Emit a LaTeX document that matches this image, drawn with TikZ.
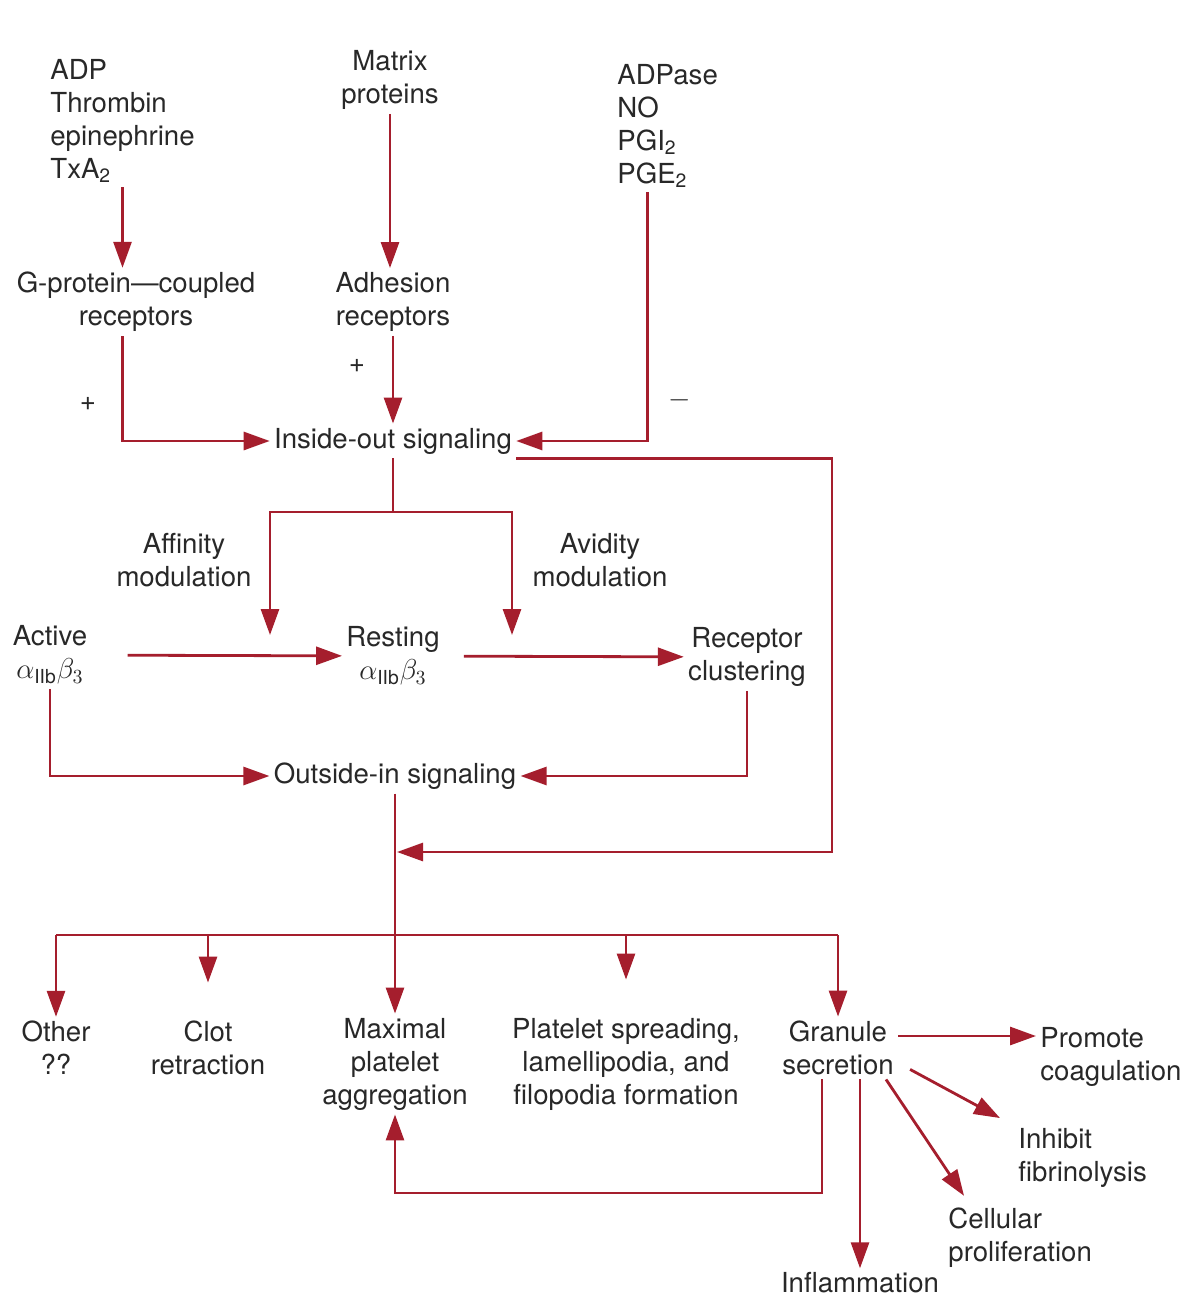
\documentclass[tikz,border=0pt]{standalone}
\usepackage{fontspec}
\setmainfont{TeX Gyre Heros}
\usetikzlibrary{arrows.meta}
\definecolor{arrowred}{RGB}{165,30,45}
\definecolor{txtgray}{RGB}{40,40,40}
\begin{document}
\begin{tikzpicture}[x=0.5pt, y=-0.5pt,
		lbl/.style={inner sep=2pt, align=center, text=txtgray, font=\fontsize{13.8}{16.5}\selectfont},
		arr/.style={-{Triangle[length=13pt, width=9pt]}, line width=1.4pt, arrowred},
		ln/.style={line width=1.4pt, arrowred}]
		\useasboundingbox[fill=white] (0,0) rectangle (1184,1299);

		% 上部：激动剂、基质蛋白与抑制剂
		\node[lbl, anchor=west, align=left] (agon) at (46,121) {ADP\\Thrombin\\epinephrine\\TxA\textsubscript{2}};
		\node[lbl] (matrix) at (390,80) {Matrix\\proteins};
		\node[lbl, anchor=west, align=left] (inhib) at (613,126) {ADPase\\NO\\PGI\textsubscript{2}\\PGE\textsubscript{2}};

		% 受体
		\node[lbl] (gpcr) at (136,302) {G-protein—coupled\\receptors};
		\node[lbl] (adh) at (393,302) {Adhesion\\receptors};
		\node[lbl] (plusa) at (88,404) {+};
		\node[lbl] (plusb) at (357,366) {+};
		\node[lbl] (minus) at (680,400) {$-$};

		\node[lbl] (inout) at (393,441) {Inside-out signaling};

		\draw[arr] (agon.south) -- (agon.south |- gpcr.north);
		\draw[arr] (matrix.south) -- (matrix.south |- adh.north);
		\draw[arr] (agon.south |- gpcr.south) |- (inout.west);
		\draw[arr] (adh.south) -- (inout.north);
		\draw[arr] ([xshift=-10pt]inhib.south) |- (inout.east);

		% 亲和力 / 亲合力调节
		\coordinate (split) at (393,512);
		\coordinate (affend) at (270,635);
		\coordinate (avend) at (512,635);
		\node[lbl] (aff) at (184,560) {Affinity\\modulation};
		\node[lbl] (avid) at (600,560) {Avidity\\modulation};
		\draw[ln] (inout.south) -- (split);
		\draw[arr] (split) -| (affend);
		\draw[arr] (split) -| (avend);

		% 整合素状态
		\node[lbl] (act) at (50,655) {Active\\$\alpha_{\mathrm{IIb}}\beta_3$};
		\node[lbl] (res) at (393,656) {Resting\\$\alpha_{\mathrm{IIb}}\beta_3$};
		\node[lbl] (rec) at (747,657) {Receptor\\clustering};
		\draw[arr, shorten <=18pt] (act) -- (res);
		\draw[arr, shorten <=10pt] (res) -- (rec);

		\node[lbl] (outin) at (395,776) {Outside-in signaling};
		\draw[arr] (act.south) |- (outin.west);
		\draw[arr] (rec.south) |- (outin.east);

		% 由内向外信号的回路
		\coordinate (rcorner) at (832,852);
		\coordinate (merge) at (397,852);
		\draw[arr] (inout.south east) -| (rcorner) -- (merge);

		% 下部：效应
		\node[lbl] (other) at (56,1048) {Other\\??};
		\node[lbl] (clot) at (208,1048) {Clot\\retraction};
		\node[lbl] (maxagg) at (395,1064) {Maximal\\platelet\\aggregation};
		\node[lbl] (spread) at (626,1064) {Platelet spreading,\\lamellipodia, and\\filopodia formation};
		\node[lbl] (gran) at (838,1048) {Granule\\secretion};
		\coordinate (bus) at (395,935);

		\draw[arr] (outin.south) -- (maxagg.north);
		\draw[ln] (bus -| other.north) -- (bus -| gran.north);
		\draw[arr] (bus -| other.north) -- (other.north);
		\draw[arr, shorten >=17pt] (bus -| clot.north) -- (clot.north);
		\draw[arr, shorten >=17pt] (bus -| spread.north) -- (spread.north);
		\draw[arr] (bus -| gran.north) -- (gran.north);

		% 颗粒分泌的作用
		\node[lbl, anchor=west, align=left] (prom) at (1036,1057) {Promote\\coagulation};
		\node[lbl, anchor=west, align=left] (inh) at (1014,1158) {Inhibit\\fibrinolysis};
		\node[lbl, anchor=west, align=left] (cell) at (944,1238) {Cellular\\proliferation};
		\node[lbl] (infl) at (860,1283) {Inflammation};

		\draw[arr] ([yshift=6pt]gran.east) -- ([yshift=6pt]gran.east -| prom.west);
		\draw[arr] ([xshift=6pt, yshift=5pt]gran.south east) -- ([xshift=-7pt, yshift=3pt]inh.north west);
		\draw[arr] ([xshift=24pt]gran.south) -- ([xshift=10pt, yshift=4pt]cell.north west);
		\draw[arr] (infl.north |- gran.south) -- (infl.north);

		\coordinate (fbot) at (395,1193);
		\draw[arr] ([xshift=-8pt]gran.south) |- (fbot) -- (maxagg.south);
	\end{tikzpicture}
\end{document}
